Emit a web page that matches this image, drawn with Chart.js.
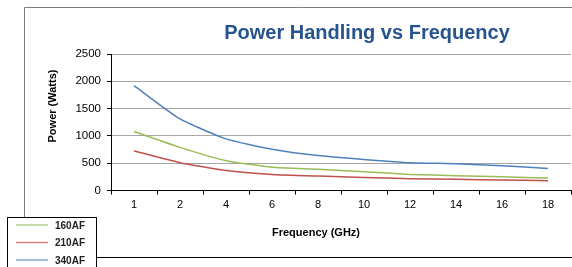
<!DOCTYPE html>
<html>
<head>
<meta charset="utf-8">
<script src="https://cdn.jsdelivr.net/npm/chart.js@4.4.1/dist/chart.umd.min.js"></script>
<style>
  html, body { margin: 0; padding: 0; background: #fff; }
  #wrap { width: 572px; height: 267px; position: relative; }
</style>
</head>
<body>
<div id="wrap"><canvas id="power-chart" width="572" height="267"></canvas></div>
<script>
const freqLabels = ["1", "2", "4", "6", "8", "10", "12", "14", "16", "18"];
const af160 = [1080, 790, 545, 425, 390, 345, 295, 270, 250, 230];
const af210 = [725, 510, 365, 295, 265, 240, 215, 205, 192, 180];
const af340 = [1920, 1310, 945, 755, 640, 570, 510, 490, 455, 405];
const seriesNames = ["160AF", "210AF", "340AF"];
const seriesColors = ["#9bbb59", "#c0504d", "#4f81bd"];
const yTicks = [0, 500, 1000, 1500, 2000, 2500];

const FONT = "'Liberation Sans', Arial, sans-serif";

// frame, titles and the little legend box in the corner
const decorPlugin = {
  id: "decor",
  beforeDraw(chart) {
    const ctx = chart.ctx;
    ctx.save();
    ctx.strokeStyle = "#7f7f7f";
    ctx.lineWidth = 1;
    ctx.beginPath();
    ctx.moveTo(24.5, 217);
    ctx.lineTo(24.5, 7.5);
    ctx.lineTo(572, 7.5);
    ctx.stroke();
    ctx.strokeStyle = "#000";
    ctx.beginPath();
    ctx.moveTo(97, 257.5);
    ctx.lineTo(572, 257.5);
    ctx.stroke();
    ctx.restore();
  },
  afterDraw(chart) {
    const ctx = chart.ctx;
    ctx.save();

    ctx.fillStyle = "#27538f";
    ctx.font = "bold 20px " + FONT;
    ctx.textAlign = "center";
    ctx.textBaseline = "middle";
    ctx.fillText("Power Handling vs Frequency", 367, 33);

    ctx.fillStyle = "#000";
    ctx.font = "bold 11px " + FONT;
    ctx.fillText("Frequency (GHz)", 316, 233);

    ctx.save();
    ctx.translate(53, 106);
    ctx.rotate(-Math.PI / 2);
    ctx.fillText("Power (Watts)", 0, 0);
    ctx.restore();

    // legend
    ctx.fillStyle = "#fff";
    ctx.fillRect(7, 217, 90, 55);
    ctx.strokeStyle = "#000";
    ctx.lineWidth = 1;
    ctx.strokeRect(7.5, 217.5, 89, 55);
    ctx.font = "bold 10px " + FONT;
    ctx.textAlign = "left";
    chart.data.datasets.forEach((ds, i) => {
      const y = 225 + i * 17.5;
      ctx.strokeStyle = ds.borderColor;
      ctx.globalAlpha = 0.7;
      ctx.lineWidth = 1.5;
      ctx.beginPath();
      ctx.moveTo(16, y);
      ctx.lineTo(48, y);
      ctx.stroke();
      ctx.globalAlpha = 1;
      ctx.fillStyle = "#222";
      ctx.fillText(ds.label, 55, y + 1);
    });
    ctx.restore();
  }
};

const ctx = document.getElementById("power-chart").getContext("2d");
const powerChart = new Chart(ctx, {
  type: "line",
  data: {
    labels: freqLabels,
    datasets: [af160, af210, af340].map((vals, i) => ({
      label: seriesNames[i],
      data: vals,
      borderColor: seriesColors[i],
      backgroundColor: seriesColors[i],
      borderWidth: 1.5,
      pointRadius: 0,
      fill: false,
      tension: 0.15
    }))
  },
  options: {
    responsive: false,
    animation: false,
    layout: { padding: { left: 0, top: 54, right: 1, bottom: 46 } },
    plugins: {
      legend: { display: false },
      title: { display: false },
      tooltip: { enabled: false }
    },
    scales: {
      x: {
        offset: true,
        afterFit(scale) { scale.height = 30.5; },
        grid: {
          offset: true,
          drawOnChartArea: false,
          drawTicks: true,
          tickLength: 4,
          color: "#000"
        },
        border: { display: true, color: "#000", width: 1 },
        ticks: {
          color: "#000",
          padding: 4,
          maxRotation: 0,
          font: { family: FONT, size: 11 }
        }
      },
      y: {
        min: 0,
        max: 2500,
        afterFit(scale) { scale.width = 111; },
        afterBuildTicks(scale) { scale.ticks = yTicks.map(v => ({ value: v })); },
        grid: {
          color: "#a6a6a6",
          tickColor: "#000",
          tickLength: 4,
          drawTicks: true
        },
        border: { display: true, color: "#000", width: 1 },
        ticks: {
          color: "#000",
          padding: 6,
          font: { family: FONT, size: 11.5 },
          callback: v => String(v)
        }
      }
    }
  },
  plugins: [decorPlugin]
});
</script>
</body>
</html>
